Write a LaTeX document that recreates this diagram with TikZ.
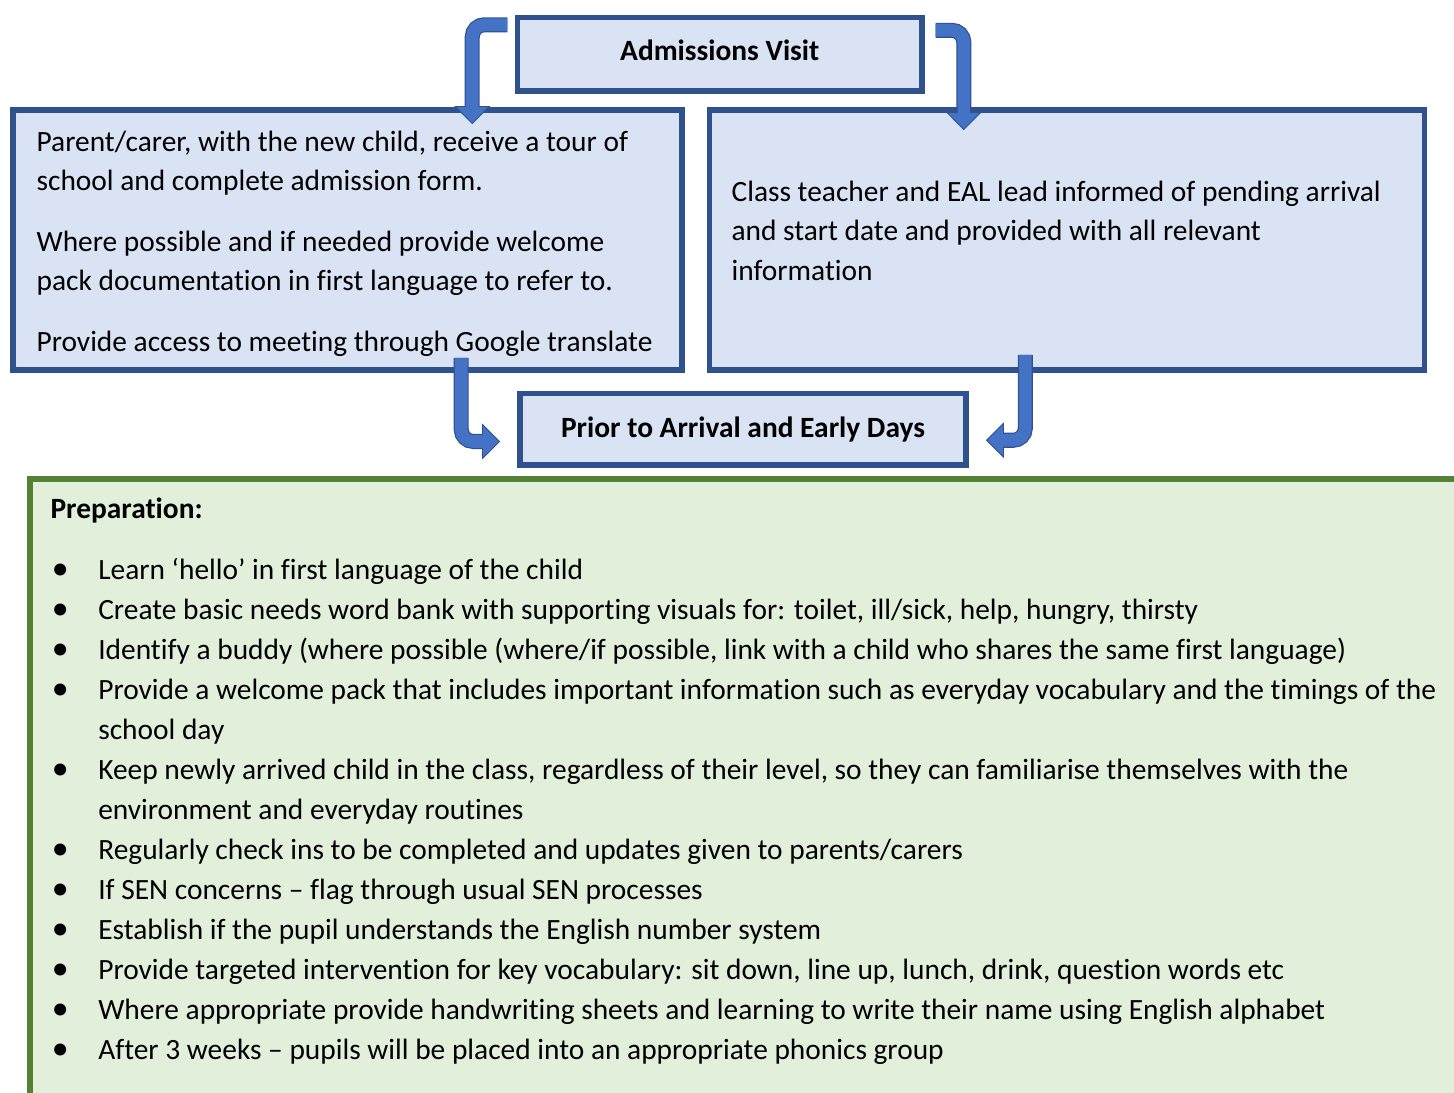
\documentclass[tikz,border=0pt]{standalone}
\usepackage{fontspec}
\setmainfont[Ligatures={TeX,NoCommon}]{Carlito}
\usepackage{tikz}
\usetikzlibrary{arrows.meta,calc}
\definecolor{boxfill}{HTML}{DAE3F3}
\definecolor{boxline}{HTML}{2F528F}
\definecolor{arrowfill}{HTML}{4472C4}
\definecolor{arrowedge}{HTML}{2F528F}
\definecolor{prepfill}{HTML}{E2EFDA}
\definecolor{prepline}{HTML}{548235}
\newcommand{\flowfont}{\fontsize{9.8pt}{13.2pt}\selectfont}
\newcommand{\listfont}{\fontsize{9.8pt}{13.35pt}\selectfont}
\newcommand{\pitem}{\makebox[15.9pt][l]{\hspace{0.4pt}\scalebox{1.15}{\textbullet}}}
\newcommand{\pcont}{\hspace*{15.9pt}}

\begin{document}
\begin{tikzpicture}[
  x=0.3333pt, y=-0.3333pt,
  font=\flowfont,
  box/.style={draw=boxline, fill=boxfill, line width=1.8pt, inner sep=0pt},
  title/.style={box, font=\flowfont\bfseries},
  txt/.style={align=left, inner sep=0pt, anchor=north west},
  barrow/.style={draw=arrowedge, line width=5pt, rounded corners=4pt,
    -{Triangle[width=11.5pt,length=6pt]},
    postaction={draw=arrowfill, line width=4.2pt, -{Triangle[width=10pt,length=5.2pt]}, shorten >=0.5pt}}
]
\useasboundingbox (0,0) rectangle (1454,1093);
\clip (0,0) rectangle (1454,1093);

% top row
\node[title, minimum width=134.8pt, minimum height=24.5pt, text depth=2.4pt] (admit) at (719.75,54.25) {Admissions Visit};
\node[box, minimum width=223pt, minimum height=86.7pt] (parent) at (347.5,240) {};
\node[box, minimum width=238.3pt, minimum height=86.7pt] (teacher) at (1067,240) {};
\node[title, minimum width=148.7pt, minimum height=23.8pt] (prior) at (743,429.25) {Prior to Arrival and Early Days};

\node[txt] (parenttxt) at (36,130) {Parent/carer, with the new child, receive a tour of\\
  school and complete admission form.\\[7pt]
  Where possible and if needed provide welcome\\
  pack documentation in first language to refer to.\\[7pt]
  Provide access to meeting through Google translate};
\node[txt] (teachertxt) at (731,180) {Class teacher and EAL lead informed of pending arrival\\
  and start date and provided with all relevant\\
  information};

% preparation list
\node[draw=prepline, fill=prepfill, line width=2pt, anchor=north west,
  minimum width=481pt, minimum height=211.3pt] (prep) at (27,476) {};
\node[txt, font=\listfont] (preplist) at (50,497) {\textbf{Preparation:}\\[7pt]
  \pitem Learn ‘hello’ in first language of the child\\
  \pitem Create basic needs word bank with supporting visuals for: toilet, ill/sick, help, hungry, thirsty\\
  \pitem Identify a buddy (where possible (where/if possible, link with a child who shares the same first language)\\
  \pitem Provide a welcome pack that includes important information such as everyday vocabulary and the timings of the\\
  \pcont school day\\
  \pitem Keep newly arrived child in the class, regardless of their level, so they can familiarise themselves with the\\
  \pcont environment and everyday routines\\
  \pitem Regularly check ins to be completed and updates given to parents/carers\\
  \pitem If SEN concerns – flag through usual SEN processes\\
  \pitem Establish if the pupil understands the English number system\\
  \pitem Provide targeted intervention for key vocabulary: sit down, line up, lunch, drink, question words etc\\
  \pitem Where appropriate provide handwriting sheets and learning to write their name using English alphabet\\
  \pitem After 3 weeks – pupils will be placed into an appropriate phonics group};

% bent arrows
\draw[barrow] ($(admit.north west)+(-7.5,10)$) -| ($(parent.north east)+(-212.5,17)$);
\draw[barrow] ($(admit.north east)+(11,15.5)$) -| ($(teacher.north west)+(257,23)$);
\draw[barrow] ($(parent.south east)+(-223.5,-15)$) |- ($(prior.west)+(-17,12.25)$);
\draw[barrow] ($(teacher.south west)+(318.5,-18)$) |- ($(prior.east)+(17,11)$);
\end{tikzpicture}
\end{document}
